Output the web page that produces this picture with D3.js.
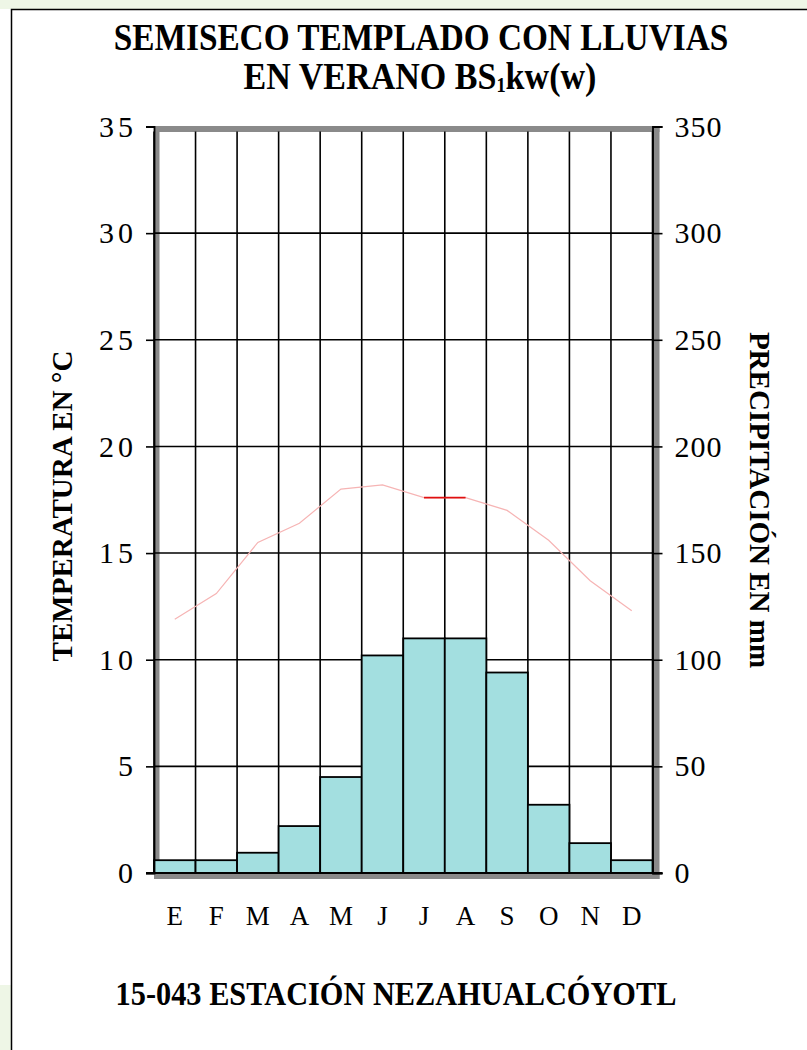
<!DOCTYPE html>
<html lang="es">
<head>
    <meta charset="UTF-8">
    <title>Climograma Nezahualcóyotl</title>
    <script src="https://d3js.org/d3.v7.min.js"></script>
    <style>
        body { margin: 0; background: #ffffff; }
        svg { display: block; }
        text { font-family: "Liberation Serif", "Times New Roman", serif; fill: #000; }
        .bold { font-weight: bold; }
    </style>
</head>
<body>
<svg width="807" height="1050"></svg>

<script>
    // data
    const months = ["E", "F", "M", "A", "M", "J", "J", "A", "S", "O", "N", "D"];
    const precip = [6, 6, 9.5, 22, 45, 102, 110, 110, 94, 32, 14, 6];        // mm
    const temp = [11.9, 13.1, 15.5, 16.4, 18.0, 18.2, 17.6, 17.6, 17.0, 15.6, 13.7, 12.3]; // °C
    const tempTicks = [0, 5, 10, 15, 20, 25, 30, 35];
    const precipTicks = [0, 50, 100, 150, 200, 250, 300, 350];
    const highlight = [6, 7];   // segment drawn in red

    let svg = d3.select("svg");

    // page frame
    svg.append("rect").attr("x", 0).attr("y", 0).attr("width", 807).attr("height", 9).attr("fill", "#eef6e6");
    svg.append("rect").attr("x", 0).attr("y", 985).attr("width", 11).attr("height", 65).attr("fill", "#eef6e6");
    svg.append("path").attr("d", "M11.5,1050V9.5H807")
        .attr("fill", "none").attr("stroke", "#000").attr("stroke-width", 1.5);

    const pLeft = 154, pRight = 652.5, pTop = 126.5, pBottom = 873;

    let x = d3.scaleBand().domain(d3.range(12)).range([pLeft, pRight]);
    let yT = d3.scaleLinear().domain([0, 35]).range([pBottom, pTop]);
    let yP = d3.scaleLinear().domain([0, 350]).range([pBottom, pTop]);

    // gray plot border (shadow)
    const gray = "#8a8a8a";
    svg.append("rect").attr("x", pLeft).attr("y", pTop - 0.5).attr("width", pRight - pLeft + 7).attr("height", 6).attr("fill", gray);
    svg.append("rect").attr("x", pLeft).attr("y", pTop).attr("width", 5.5).attr("height", pBottom - pTop).attr("fill", gray);
    svg.append("rect").attr("x", pRight).attr("y", pTop).attr("width", 7).attr("height", pBottom - pTop + 6).attr("fill", gray);
    svg.append("rect").attr("x", pLeft).attr("y", pBottom).attr("width", pRight - pLeft + 7).attr("height", 6).attr("fill", gray);

    // horizontal grid
    svg.append("g").selectAll("line")
        .data(tempTicks.slice(0, -1))
        .enter().append("line")
        .attr("x1", pLeft).attr("x2", pRight)
        .attr("y1", d => yT(d)).attr("y2", d => yT(d))
        .attr("stroke", "#000").attr("stroke-width", 1.6);

    // vertical grid at month boundaries
    svg.append("g").selectAll("line")
        .data(d3.range(13))
        .enter().append("line")
        .attr("x1", d => pLeft + d * x.step()).attr("x2", d => pLeft + d * x.step())
        .attr("y1", pTop + 5).attr("y2", pBottom)
        .attr("stroke", "#000").attr("stroke-width", 1.6);

    // precipitation bars
    svg.append("g").selectAll("rect")
        .data(precip)
        .enter().append("rect")
        .attr("x", (d, i) => x(i))
        .attr("y", d => yP(d))
        .attr("width", x.bandwidth())
        .attr("height", d => pBottom - yP(d))
        .attr("fill", "#a3dfe0")
        .attr("stroke", "#000")
        .attr("stroke-width", 1.8);

    // temperature line
    let line = d3.line()
        .x((d, i) => x(i) + x.bandwidth() / 2)
        .y(d => yT(d));

    svg.append("path")
        .attr("d", line(temp))
        .attr("fill", "none")
        .attr("stroke", "#f6b4b4")
        .attr("stroke-width", 1.2);

    svg.append("line")
        .attr("x1", x(highlight[0]) + x.bandwidth() / 2)
        .attr("x2", x(highlight[1]) + x.bandwidth() / 2)
        .attr("y1", yT(temp[highlight[0]]))
        .attr("y2", yT(temp[highlight[1]]))
        .attr("stroke", "#e01010")
        .attr("stroke-width", 1.6);

    // axes
    let axisL = svg.append("g")
        .attr("transform", "translate(" + pLeft + ",0)")
        .call(d3.axisLeft(yT).tickValues(tempTicks).tickSize(8).tickPadding(13).tickFormat(d3.format("d")));
    let axisR = svg.append("g")
        .attr("transform", "translate(" + pRight + ",0)")
        .call(d3.axisRight(yP).tickValues(precipTicks).tickSize(10).tickPadding(12).tickFormat(d3.format("d")));

    [axisL, axisR].forEach(function (a) {
        a.select(".domain").attr("stroke", "#000").attr("stroke-width", 1.8);
        a.selectAll(".tick line").attr("stroke", "#000").attr("stroke-width", 1.6);
        a.selectAll(".tick text")
            .attr("font-family", "Liberation Serif")
            .attr("font-size", 30)
            .attr("fill", "#000");
    });
    axisL.selectAll(".tick text").attr("letter-spacing", 4).attr("dx", 4);
    axisR.selectAll(".tick text").attr("letter-spacing", 1);

    // baseline over the bars
    svg.append("line")
        .attr("x1", pLeft - 8).attr("x2", pRight + 10)
        .attr("y1", pBottom).attr("y2", pBottom)
        .attr("stroke", "#000").attr("stroke-width", 1.8);

    // month labels
    svg.append("g").selectAll("text")
        .data(months)
        .enter().append("text")
        .attr("x", (d, i) => x(i) + x.bandwidth() / 2)
        .attr("y", 925)
        .attr("text-anchor", "middle")
        .attr("font-size", 27)
        .text(d => d);

    // titles (slightly condensed, like the original)
    svg.append("text").attr("class", "bold")
        .attr("transform", "translate(421,50) scale(0.9,1)")
        .attr("text-anchor", "middle").attr("font-size", 37)
        .text("SEMISECO TEMPLADO CON LLUVIAS");

    let t2 = svg.append("text").attr("class", "bold")
        .attr("transform", "translate(420,89) scale(0.92,1)")
        .attr("text-anchor", "middle").attr("font-size", 37);
    t2.append("tspan").text("EN VERANO BS");
    t2.append("tspan").attr("font-size", 20).attr("dy", 3).text("1");
    t2.append("tspan").attr("dy", -3).text("kw(w)");

    svg.append("text").attr("class", "bold")
        .attr("transform", "translate(72,506) rotate(-90)")
        .attr("text-anchor", "middle").attr("font-size", 29)
        .text("TEMPERATURA  EN °C");

    svg.append("text").attr("class", "bold")
        .attr("transform", "translate(750,500) rotate(90)")
        .attr("text-anchor", "middle").attr("font-size", 29)
        .text("PRECIPITACIÓN EN mm");

    svg.append("text").attr("class", "bold")
        .attr("transform", "translate(396,1005) scale(0.92,1)")
        .attr("text-anchor", "middle").attr("font-size", 33)
        .text("15-043 ESTACIÓN NEZAHUALCÓYOTL");
</script>
</body>
</html>
